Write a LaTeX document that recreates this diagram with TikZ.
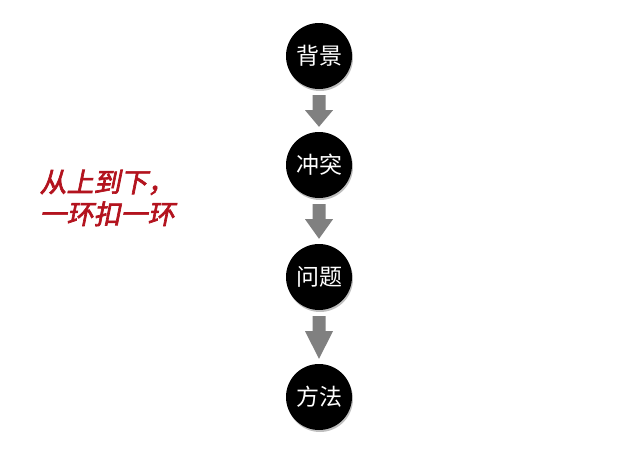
\documentclass[tikz,border=0pt]{standalone}
\usepackage{fontspec}
\newfontfamily\cjk{Noto Sans CJK SC}
\newfontfamily\cjkslant[FakeSlant=0.2,FakeBold=2.5]{Noto Sans CJK SC}
\usetikzlibrary{shadows}
\definecolor{arrowgray}{HTML}{808080}
\definecolor{titlered}{HTML}{B3131E}
\tikzset{
  stage/.style={circle, fill=black, minimum size=66pt, inner sep=0pt, text=white,
    font=\cjk\fontsize{23pt}{23pt}\selectfont,
    drop shadow={shadow xshift=1pt, shadow yshift=-2pt, opacity=0.25, fill=black}},
  flowarrow/.style={fill=arrowgray, draw=none},
  note/.style={text=titlered, font=\cjkslant\fontsize{27pt}{32pt}\selectfont, align=left, anchor=west}
}
\newcommand{\blockarrow}[2]{%
  \fill[flowarrow] ([xshift=-6.5pt,yshift=-6pt]#1.south) -- ([xshift=6.5pt,yshift=-6pt]#1.south)
    -- ([xshift=6.5pt,yshift=-21pt]#1.south) -- ([xshift=14pt,yshift=-21pt]#1.south)
    -- ([yshift=5pt]#2.north) -- ([xshift=-14pt,yshift=-21pt]#1.south)
    -- ([xshift=-6.5pt,yshift=-21pt]#1.south) -- cycle;}
\begin{document}
\begin{tikzpicture}[x=1pt,y=-1pt]
\useasboundingbox (0,0) rectangle (640,469);
\node[stage] (s1) at (319,56) {背景};
\node[stage] (s2) at (319,165) {冲突};
\node[stage] (s3) at (319,277) {问题};
\node[stage] (s4) at (319,397) {方法};
\blockarrow{s1}{s2}
\blockarrow{s2}{s3}
\blockarrow{s3}{s4}
\node[note] (note) at (36,198) {从上到下，\\一环扣一环};
\end{tikzpicture}
\end{document}
